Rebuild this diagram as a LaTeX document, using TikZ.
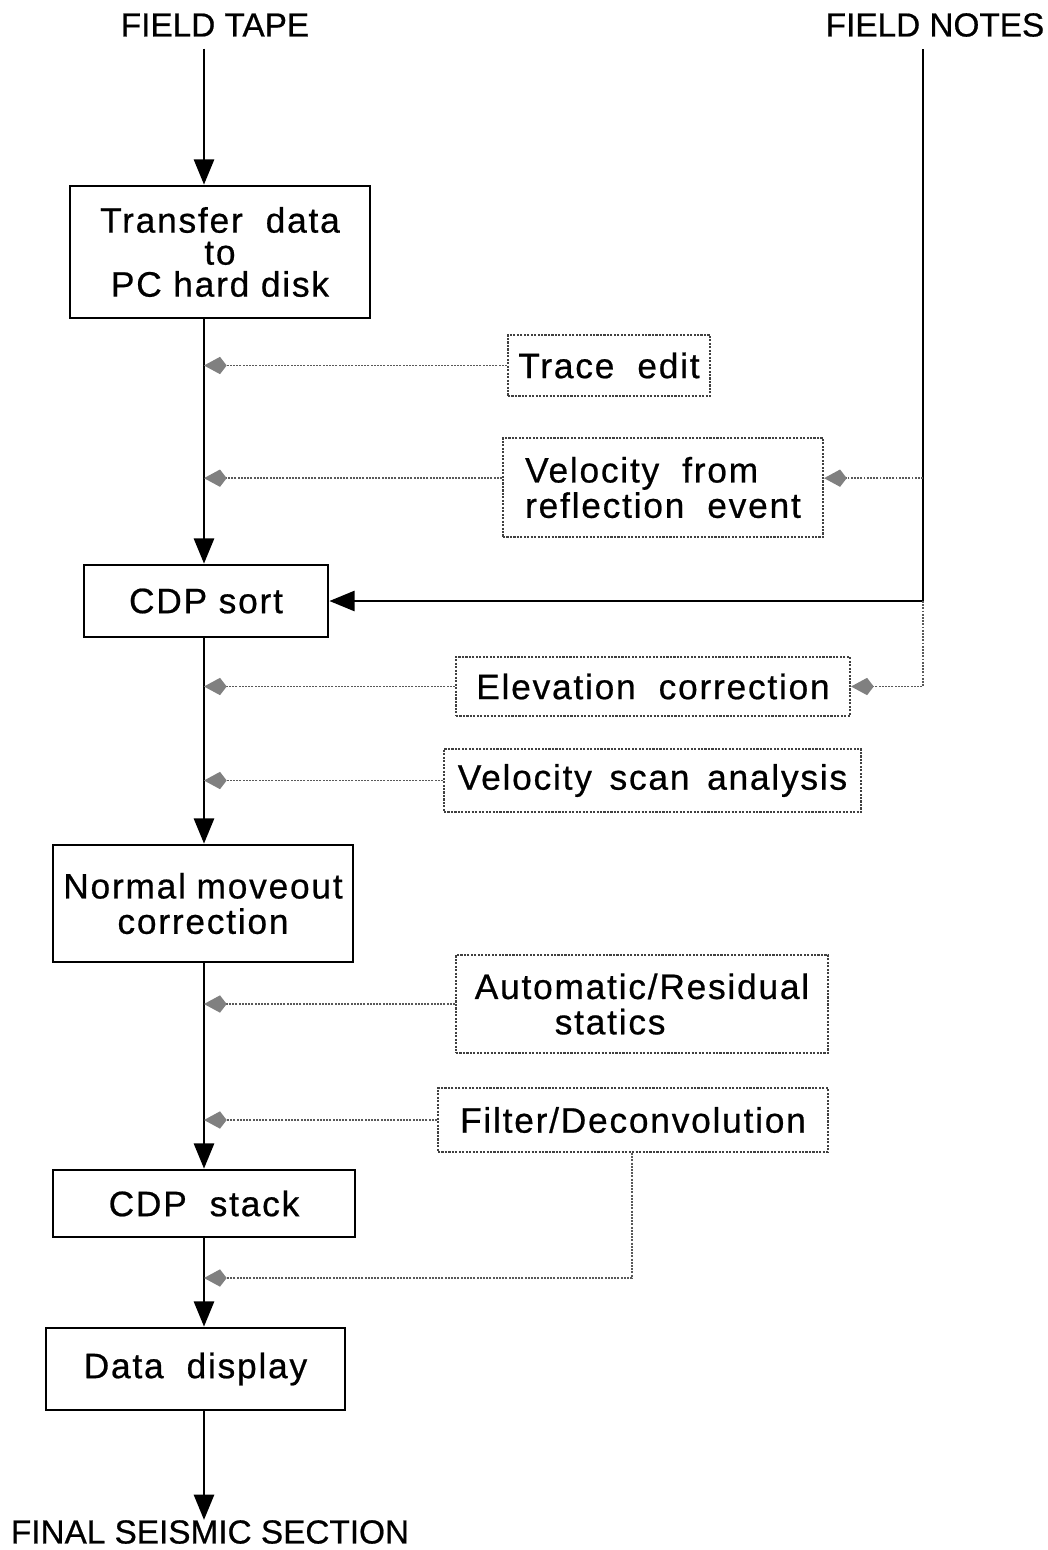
\documentclass[tikz,border=0pt]{standalone}
\usepackage{fontspec}
\setmainfont{Liberation Sans}[FakeBold=0.6]
\newfontfamily\boxfont[LetterSpace=5,FakeBold=0.6]{Liberation Sans}
\usetikzlibrary{arrows.meta}
\newcommand{\wgap}{\hspace{0.65em}}
\begin{document}
\begin{tikzpicture}[x=0.75pt,y=-0.75pt]
\tikzset{
  lbl/.style={font=\fontsize{25}{28}\selectfont, inner sep=0pt},
  mbox/.style={draw, line width=2pt, inner sep=0pt, align=center,
    font=\boxfont\fontsize{26.5}{26.5}\selectfont},
  dbox/.style={draw=black!75, densely dotted, line width=1.6pt, inner sep=0pt,
    align=center, font=\boxfont\fontsize{26.5}{26.5}\selectfont},
  flow/.style={line width=2.2pt, -{Triangle[length=19pt,width=15pt]}},
  feed/.style={draw=black!65, densely dotted, line width=1.4pt,
    -{Kite[length=17pt,width=13pt,inset=5pt,color=black!50,fill=black!50]}}
}
\useasboundingbox (0,0) rectangle (1048,1550);

% spine and field-notes columns
\coordinate (spx) at (204,0);
\coordinate (fnx) at (923,0);

% end labels
\node[lbl] (tape) at (215,25) {FIELD TAPE};
\node[lbl] (notes) at (935,25) {FIELD NOTES};
\node[lbl] (final) at (210,1532) {FINAL SEISMIC SECTION};

% main processing chain
\node[mbox, minimum width=225pt, minimum height=99pt,
  font=\boxfont\fontsize{26.5}{24}\selectfont] (xfer) at (220,252)
  {Transfer\wgap data\\to\\PC hard disk};
\node[mbox, minimum width=183pt, minimum height=54pt] (sort) at (206,601) {CDP sort};
\node[mbox, minimum width=225pt, minimum height=87.75pt] (nmo) at (203,903.5)
  {Normal\hspace{0.3em}moveout\\correction};
\node[mbox, minimum width=226.5pt, minimum height=50.25pt] (stack) at (204,1203.5)
  {CDP\wgap stack};
\node[mbox, minimum width=224.25pt, minimum height=61.5pt] (disp) at (195.5,1369)
  {Data\wgap display};

% auxiliary steps
\node[dbox, minimum width=151.5pt, minimum height=45.75pt] (trace) at (609,365.5)
  {Trace\wgap edit};
\node[dbox, minimum width=240pt, minimum height=74.25pt, align=left] (vel) at (663,487.5)
  {Velocity\wgap from\\reflection\wgap event};
\node[dbox, minimum width=295.5pt, minimum height=44.25pt] (elev) at (653,686.5)
  {Elevation\wgap correction};
\node[dbox, minimum width=312.75pt, minimum height=47.25pt] (scan) at (652.5,780.5)
  {Velocity\hspace{0.5em}scan\hspace{0.5em}analysis};
\node[dbox, minimum width=279pt, minimum height=73.5pt, align=left] (stat) at (642,1004)
  {Automatic/Residual\\\hspace*{60pt}statics};
\node[dbox, minimum width=292.5pt, minimum height=48pt] (filt) at (633,1120)
  {Filter/Deconvolution};

% main flow arrows
\draw[flow] (tape.south -| spx) ++(0,12) -- (xfer.north -| spx);
\draw[flow] (xfer.south -| spx) -- (sort.north -| spx);
\draw[flow] (sort.south -| spx) -- (nmo.north -| spx);
\draw[flow] (nmo.south -| spx) -- (stack.north -| spx);
\draw[flow] (stack.south -| spx) -- (disp.north -| spx);
\draw[flow] (disp.south -| spx) -- (final.north -| spx);

% field notes line into CDP sort
\coordinate (fntop) at (fnx |- notes.south);
\coordinate (fnbend) at (fnx |- sort.east);
\draw[flow] (fntop) ++(0,12) -- (fnbend) -- (sort.east);

% auxiliary inputs to the spine
\draw[feed] (trace.west) -- (trace.west -| spx);
\draw[feed] ([yshift=7pt]vel.west) -- ([yshift=7pt]vel.west -| spx);
\draw[feed] ([yshift=7pt]vel.east -| fnx) -- ([yshift=7pt]vel.east);
\draw[feed] (elev.west) -- (elev.west -| spx);
\draw[feed] (fnbend) -- (fnx |- elev.east) -- (elev.east);
\draw[feed] (scan.west) -- (scan.west -| spx);
\draw[feed] (stat.west) -- (stat.west -| spx);
\draw[feed] (filt.west) -- (filt.west -| spx);
\coordinate (fcorner) at (632,1278);
\draw[feed] (filt.south -| fcorner) -- (fcorner) -- (fcorner -| spx);
\end{tikzpicture}
\end{document}
